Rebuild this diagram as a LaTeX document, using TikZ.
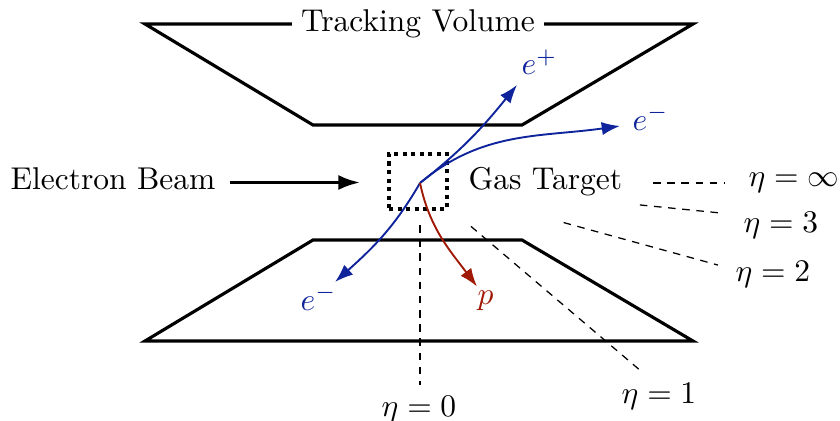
\documentclass[tikz,border=0pt]{standalone}
\usepackage{xcolor}
\usepackage{tikz}
\usetikzlibrary{arrows.meta, positioning, calc}
\usepackage{amsmath}
\definecolor{trackblue}{RGB}{15,35,155}
\definecolor{trackred}{RGB}{160,25,5}
\tikzset{
  detector/.style={line width=1pt},
  gasbox/.style={draw, line width=1pt, dash pattern=on 1.4pt off 1.3pt,
    minimum width=18.4pt, minimum height=17.5pt, inner sep=0pt},
  beamarrow/.style={-{Latex[length=6.9pt,width=4.8pt]}, line width=1pt},
  track/.style={-{Latex[length=5.8pt,width=4.2pt]}, line width=0.6pt},
  etrack/.style={track, color=trackblue},
  ptrack/.style={track, color=trackred},
  etaline/.style={line width=0.4pt, dash pattern=on 2.4pt off 2.1pt},
  lbl/.style={inner sep=0pt, anchor=base west},
}

\begin{document}
\begin{tikzpicture}[x=0.3175pt, y=0.3175pt]
  \useasboundingbox (0,0) rectangle (840,-421);

  % detector halves
  \draw[detector] (145,-24) -- (693,-24) -- (522,-125) -- (313,-125) -- cycle;
  \draw[detector] (313,-240) -- (522,-240) -- (693,-341) -- (145,-341) -- cycle;
  \node[fill=white, inner sep=2.8pt] (trackvol) at (418,-24) {Tracking Volume};

  % beam and target
  \coordinate (vtx) at (420,-183);
  \node[gasbox] (target) at (418,-181.5) {};
  \node[lbl] (beam) at (10,-190) {Electron Beam};
  \node[lbl] (gastgt) at (468,-190) {Gas Target};
  \coordinate (beamtail) at (230,-182.5);
  \coordinate (beamtip) at (360,-182.5);
  \draw[beamarrow] (beamtail) -- (beamtip);

  % outgoing tracks
  \coordinate (epend) at (517,-85);
  \coordinate (emend) at (620,-126);
  \coordinate (emlowend) at (335,-282);
  \coordinate (pend) at (477,-286.5);
  \draw[etrack] (vtx) to[out=38, in=231] (epend);
  \draw[etrack] (vtx) to[out=40, in=188] (emend);
  \draw[etrack] (vtx) to[out=240, in=42] (emlowend);
  \draw[ptrack] (vtx) to[out=-78, in=127] (pend);

  \node[lbl, text=trackblue] (eplbl) at (521,-75) {$e^+$};
  \node[lbl, text=trackblue] (emlbl) at (632,-130) {$e^-$};
  \node[lbl, text=trackblue] (emlowlbl) at (300,-310) {$e^-$};
  \node[lbl, text=trackred] (plbl) at (477,-305) {$p$};

  % pseudorapidity guides
  \draw[etaline] ($(vtx)+(-90:42)$) -- ($(vtx)+(-90:202)$);
  \draw[etaline] ($(vtx)+(-40.4:67)$) -- ($(vtx)+(-40.4:290)$);
  \draw[etaline] ($(vtx)+(-15.4:149)$) -- ($(vtx)+(-15.4:309)$);
  \draw[etaline] ($(vtx)+(-5.7:221)$) -- ($(vtx)+(-5.7:306)$);
  \draw[etaline] ($(vtx)+(0:233)$) -- ($(vtx)+(0:305)$);

  \node[lbl, anchor=base] (eta0) at (419,-416) {$\eta = 0$};
  \node[lbl, anchor=base] (eta1) at (659,-403.5) {$\eta = 1$};
  \node[lbl] (eta2) at (735,-281.5) {$\eta = 2$};
  \node[lbl] (eta3) at (743,-232.5) {$\eta = 3$};
  \node[lbl] (etainf) at (748,-187) {$\eta = \infty$};
\end{tikzpicture}
\end{document}
